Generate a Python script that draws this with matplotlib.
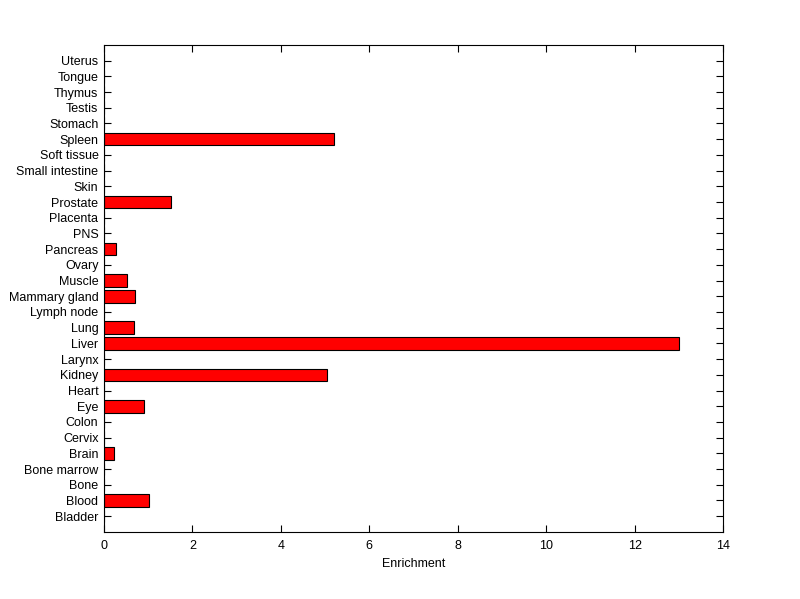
import numpy as np
import matplotlib
matplotlib.use("Agg")
import matplotlib.pyplot as plt

tissues = ["Bladder", "Blood", "Bone", "Bone marrow", "Brain", "Cervix", "Colon",
           "Eye", "Heart", "Kidney", "Larynx", "Liver", "Lung", "Lymph node",
           "Mammary gland", "Muscle", "Ovary", "Pancreas", "PNS", "Placenta",
           "Prostate", "Skin", "Small intestine", "Soft tissue", "Spleen",
           "Stomach", "Testis", "Thymus", "Tongue", "Uterus"]
enrichment = [0, 1.02, 0, 0, 0.23, 0, 0,
              0.9, 0, 5.05, 0, 13.0, 0.68, 0,
              0.7, 0.52, 0, 0.27, 0, 0,
              1.52, 0, 0, 0, 5.2,
              0, 0, 0, 0, 0]

plt.rcParams['font.family'] = ['Liberation Sans', 'DejaVu Sans']
plt.rcParams['font.size'] = 9

fig = plt.figure(figsize=(8, 5.99), dpi=100)
ax = fig.add_axes([0.13, 0.112, 0.774, 0.813])
ax.set_axisbelow(True)
pos = np.arange(1, len(tissues) + 1)
ax.barh(pos, enrichment, height=0.8, color="red", edgecolor="black", linewidth=0.8)
ax.set_ylim(0, 31)
ax.set_xlim(0, 14)
ax.set_yticks(pos)
ax.set_yticklabels(tissues)
ax.set_xticks(np.arange(0, 15, 2))
ax.tick_params(direction="in", top=True, right=True, length=5, width=0.8)
ax.tick_params(axis="x", pad=6)
ax.tick_params(axis="y", pad=4)
ax.set_xlabel("Enrichment", labelpad=4)
for s in ax.spines.values():
    s.set_linewidth(0.8)

plt.savefig("out.png", dpi=100)
